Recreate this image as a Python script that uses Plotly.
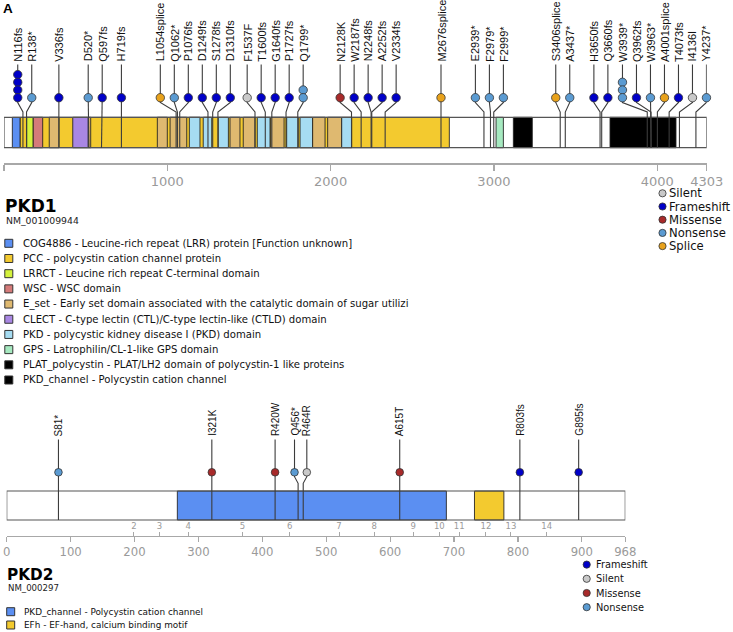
import plotly.graph_objects as go

W, H = 733, 632

# ---------------- DATA ----------------
pkd1_length = 4303
pkd1_axis_ticks = [0, 1000, 2000, 3000, 4000, 4303]
pkd1_mut_label = ["N116fs", "R138*", "V336fs", "D520*", "Q597fs", "H719fs", "L1054splice", "Q1062*",
                  "P1076fs", "D1249fs", "S1278fs", "D1310fs", "F1537F", "T1600fs", "G1640fs", "P1727fs",
                  "Q1799*", "N2128K", "W2187fs", "N2248fs", "A2252fs", "V2334fs", "M2676splice", "E2939*",
                  "F2979*", "F2999*", "S3406splice", "A3437*", "H3650fs", "Q3660fs", "W3939*", "Q3962fs",
                  "W3963*", "A4001splice", "T4073fs", "I4136I", "Y4237*"]
pkd1_mut_pos = [116, 138, 336, 520, 597, 719, 1054, 1062,
                1076, 1249, 1278, 1310, 1537, 1600, 1640, 1727,
                1799, 2128, 2187, 2248, 2252, 2334, 2676, 2939,
                2979, 2999, 3406, 3437, 3650, 3660, 3939, 3962,
                3963, 4001, 4073, 4136, 4237]
pkd1_mut_type = ["Frameshift", "Nonsense", "Frameshift", "Nonsense", "Frameshift", "Frameshift", "Splice", "Nonsense",
                 "Frameshift", "Frameshift", "Frameshift", "Frameshift", "Silent", "Frameshift", "Frameshift", "Frameshift",
                 "Nonsense", "Missense", "Frameshift", "Frameshift", "Frameshift", "Frameshift", "Splice", "Nonsense",
                 "Nonsense", "Nonsense", "Splice", "Nonsense", "Frameshift", "Frameshift", "Nonsense", "Frameshift",
                 "Nonsense", "Splice", "Frameshift", "Silent", "Nonsense"]
pkd1_mut_count = [4, 1, 1, 1, 1, 1, 1, 1,
                  1, 1, 1, 1, 1, 1, 1, 1,
                  2, 1, 1, 1, 1, 1, 1, 1,
                  1, 1, 1, 1, 1, 1, 3, 1,
                  1, 1, 1, 1, 1]

pkd1_dom_key = ["PCC", "COG4886", "LRRCT", "WSC", "E_set", "CLECT", "E_set", "E_set", "E_set", "PKD", "PKD",
                "PKD", "E_set", "E_set", "PKD", "E_set", "PKD", "PKD", "E_set", "E_set", "PKD", "GPS",
                "PLAT_polycystin", "PKD_channel"]
pkd1_dom_start = [98, 51, 139, 179, 277, 421, 516, 939, 1017, 1135, 1220,
                  1312, 1384, 1465, 1551, 1633, 1731, 1813, 1890, 1982, 2068, 3013,
                  3119, 3711]
pkd1_dom_end = [2727, 98, 179, 237, 337, 516, 531, 1000, 1119, 1200, 1272,
                1374, 1445, 1537, 1629, 1715, 1802, 1890, 1966, 2068, 2129, 3058,
                3235, 4115]

pkd1_legend_key = ["COG4886", "PCC", "LRRCT", "WSC", "E_set", "CLECT", "PKD", "GPS", "PLAT_polycystin", "PKD_channel"]
pkd1_legend_text = [
    "COG4886 - Leucine-rich repeat (LRR) protein [Function unknown]",
    "PCC - polycystin cation channel protein",
    "LRRCT - Leucine rich repeat C-terminal domain",
    "WSC - WSC domain",
    "E_set - Early set domain associated with the catalytic domain of sugar utilizi",
    "CLECT - C-type lectin (CTL)/C-type lectin-like (CTLD) domain",
    "PKD - polycystic kidney disease I (PKD) domain",
    "GPS - Latrophilin/CL-1-like GPS domain",
    "PLAT_polycystin - PLAT/LH2 domain of polycystin-1 like proteins",
    "PKD_channel - Polycystin cation channel",
]
pkd1_type_legend = ["Silent", "Frameshift", "Missense", "Nonsense", "Splice"]

pkd2_length = 968
pkd2_axis_ticks = [0, 100, 200, 300, 400, 500, 600, 700, 800, 900, 968]
pkd2_mut_label = ["S81*", "I321K", "R420W", "Q456*", "R464R", "A615T", "R803fs", "G895fs"]
pkd2_mut_pos = [81, 321, 420, 456, 464, 615, 803, 895]
pkd2_mut_type = ["Nonsense", "Missense", "Missense", "Nonsense", "Silent", "Missense", "Frameshift", "Frameshift"]
pkd2_mut_count = [1, 1, 1, 1, 1, 1, 1, 1]
pkd2_dom_key = ["PKD_channel", "EFh"]
pkd2_dom_start = [267, 732]
pkd2_dom_end = [688, 778]
pkd2_legend_key = ["PKD_channel", "EFh"]
pkd2_legend_text = ["PKD_channel - Polycystin cation channel", "EFh - EF-hand, calcium binding motif"]
pkd2_type_legend = ["Frameshift", "Silent", "Missense", "Nonsense"]
pkd2_exon_label = ["2", "3", "4", "5", "6", "7", "8", "9", "10", "11", "12", "13", "14"]
pkd2_exon_pos = [199, 239, 284, 369, 443, 520, 575, 636, 677, 708, 750, 789, 845]

# ---------------- STYLE ----------------
MUT_COLOR = {"Silent": "#c9c9c9", "Frameshift": "#0000c8", "Missense": "#a82a2a",
             "Nonsense": "#5b9bd2", "Splice": "#e8a21c"}
DOM_COLOR = {"COG4886": "#5b8ff2", "PCC": "#f3ca2f", "LRRCT": "#d4f23c", "WSC": "#d57b7a",
             "E_set": "#dfb970", "CLECT": "#a987e3", "PKD": "#a6dcf2", "GPS": "#a6e9c0",
             "PLAT_polycystin": "#000000", "PKD_channel": "#000000"}
DOM_COLOR2 = {"PKD_channel": "#5b8ff2", "EFh": "#f3ca2f"}
STEM = "#3c3c3c"
AXIS_GREY = "#a8a8a8"
LABEL_FONT = "Liberation Sans, Arial, sans-serif"
UI_FONT = "DejaVu Sans, Verdana, sans-serif"

# panel geometry (pixels in the page, used only for layout)
P1 = dict(xl=4.0, xr=706.7, bar_top=117.3, bar_bot=147.7, axis_y=163.3, circle_y=97.7, stack=7.7,
          label_bot=62.5, stem_top=64.5, elbow_a=102.5, elbow_b=112.0, gap_px=14.0, msize=8.4,
          lab_size=11.0)
P2 = dict(xl=6.7, xr=625.3, bar_top=491.0, bar_bot=520.0, axis_y=536.0, circle_y=472.3, stack=7.0,
          label_bot=437.0, stem_top=439.5, elbow_a=476.7, elbow_b=483.3, gap_px=12.3, msize=7.6,
          lab_size=10.0)


def spread(pos, gap):
    """Place lollipop heads so neighbours are at least `gap` apart, each
    crowded group centred on the mean of its true positions."""
    n = len(pos)
    order = sorted(range(n), key=lambda i: pos[i])
    clusters = [[i] for i in order]

    def start(c):
        return sum(pos[i] for i in c) / len(c) - (len(c) - 1) * gap / 2

    changed = True
    while changed:
        changed = False
        for k in range(len(clusters) - 1):
            a, b = clusters[k], clusters[k + 1]
            end_a = start(a) + (len(a) - 1) * gap
            if start(b) - end_a < gap - 1e-9:
                clusters[k] = a + b
                del clusters[k + 1]
                changed = True
                break
    disp = [0.0] * n
    for c in clusters:
        s = start(c)
        for j, i in enumerate(c):
            disp[i] = s + j * gap
    return disp


fig = go.Figure()
shapes = []
annotations = []


def draw_panel(P, xref, length, dom_key, dom_start, dom_end, dom_colors,
               mut_label, mut_pos, mut_type, mut_count):
    scale = (P["xr"] - P["xl"]) / length
    disp = spread(mut_pos, P["gap_px"] / scale)
    # protein bar
    shapes.append(dict(type="rect", xref=xref, yref="y", x0=0, x1=length, y0=P["bar_top"], y1=P["bar_bot"],
                       fillcolor="white", line=dict(width=0), layer="below"))
    for k, s, e in zip(dom_key, dom_start, dom_end):
        shapes.append(dict(type="rect", xref=xref, yref="y", x0=s, x1=e, y0=P["bar_top"], y1=P["bar_bot"],
                           fillcolor=dom_colors[k], line=dict(color="rgba(30,30,30,0.85)", width=1),
                           layer="below"))
    shapes.append(dict(type="rect", xref=xref, yref="y", x0=0, x1=length, y0=P["bar_top"], y1=P["bar_bot"],
                       fillcolor="rgba(0,0,0,0)", line=dict(color="#555555", width=1.2), layer="below"))
    # stems
    sx, sy = [], []
    cx, cy, cc = [], [], []
    for d, a, t, n in zip(disp, mut_pos, mut_type, mut_count):
        top = P["circle_y"] - (n - 1) * P["stack"]
        sx += [d, d, None, d, d, a, a, None]
        sy += [P["stem_top"], top, None, P["circle_y"], P["elbow_a"], P["elbow_b"], P["bar_bot"], None]
        for k in range(n - 1, -1, -1):
            cx.append(d)
            cy.append(P["circle_y"] - k * P["stack"])
            cc.append(MUT_COLOR[t])
    fig.add_trace(go.Scatter(x=sx, y=sy, xaxis=xref, yaxis="y", mode="lines",
                             line=dict(color=STEM, width=1.1), hoverinfo="skip", showlegend=False))
    fig.add_trace(go.Scatter(x=cx, y=cy, xaxis=xref, yaxis="y", mode="markers", cliponaxis=False,
                             marker=dict(size=P["msize"], color=cc, line=dict(color="#333333", width=0.8)),
                             hoverinfo="skip", showlegend=False))
    for d, lab in zip(disp, mut_label):
        annotations.append(dict(text=lab, xref=xref, yref="y", x=d, y=P["label_bot"], showarrow=False,
                                textangle=-90, xanchor="center", yanchor="bottom", borderpad=0,
                                font=dict(family=LABEL_FONT, size=P["lab_size"], color="#111111")))


draw_panel(P1, "x", pkd1_length, pkd1_dom_key, pkd1_dom_start, pkd1_dom_end, DOM_COLOR,
           pkd1_mut_label, pkd1_mut_pos, pkd1_mut_type, pkd1_mut_count)
draw_panel(P2, "x2", pkd2_length, pkd2_dom_key, pkd2_dom_start, pkd2_dom_end, DOM_COLOR2,
           pkd2_mut_label, pkd2_mut_pos, pkd2_mut_type, pkd2_mut_count)

# dummy invisible traces so every axis is rendered
for ax in ["x3", "x4"]:
    fig.add_trace(go.Scatter(x=[0], y=[-50], xaxis=ax, yaxis="y", mode="markers",
                             marker=dict(opacity=0), hoverinfo="skip", showlegend=False))


# ---------------- LEGENDS / TITLES (page-pixel layout on x4/y) ----------------
def text(x, y, s, size, bold=False, color="#111111", family=UI_FONT, xanchor="left"):
    annotations.append(dict(text=("<b>%s</b>" % s) if bold else s, xref="x4", yref="y", x=x, y=y,
                            showarrow=False, xanchor=xanchor, yanchor="middle", borderpad=0,
                            font=dict(family=family, size=size, color=color)))


text(1.5, 8.5, "A", 13.5, bold=True, family="Liberation Sans, Arial, sans-serif", color="#000000")

# PKD1 title + domain legend
text(4.0, 206.3, "PKD1", 17, bold=True, color="#000000")
text(4.5, 220.0, "NM_001009944", 9.3, color="#222222")
row0, step = 243.3, 15.19
for i, (k, s) in enumerate(zip(pkd1_legend_key, pkd1_legend_text)):
    yc = row0 + i * step
    shapes.append(dict(type="rect", xref="x4", yref="y", x0=4.8, x1=12.8, y0=yc - 4, y1=yc + 4,
                       fillcolor=DOM_COLOR[k], line=dict(color="#333333", width=1)))
    text(21.5, yc, s, 10.1)

# mutation type legends
lx, ly, ls = [], [], []
for i, t in enumerate(pkd1_type_legend):
    yc = 193.3 + i * 13.2
    lx.append(662.5); ly.append(yc); ls.append(MUT_COLOR[t])
    text(668.0, yc, t, 11.6)
for i, t in enumerate(pkd2_type_legend):
    yc = 564.6 + i * 14.2
    lx.append(586.7); ly.append(yc); ls.append(MUT_COLOR[t])
    text(595.0, yc, t, 9.8)
fig.add_trace(go.Scatter(x=lx, y=ly, xaxis="x4", yaxis="y", mode="markers", cliponaxis=False,
                         marker=dict(size=7.2, color=ls, line=dict(color="#333333", width=0.8)),
                         hoverinfo="skip", showlegend=False))

# PKD2 title + domain legend
text(6.0, 574.6, "PKD2", 15.3, bold=True, color="#000000")
text(6.7, 588.3, "NM_000297", 8.6, color="#222222")
for i, (k, s) in enumerate(zip(pkd2_legend_key, pkd2_legend_text)):
    yc = 611.7 + i * 13.3
    shapes.append(dict(type="rect", xref="x4", yref="y", x0=6.7, x1=14.7, y0=yc - 4, y1=yc + 4,
                       fillcolor=DOM_COLOR2[k], line=dict(color="#333333", width=1)))
    text(22.7, yc, s, 8.9)


def pos(ypx):
    return 1 - ypx / H


common = dict(showgrid=False, zeroline=False, fixedrange=True)
fig.update_layout(
    width=W, height=H, margin=dict(l=0, r=0, t=0, b=0, pad=0, autoexpand=False),
    paper_bgcolor="white", plot_bgcolor="rgba(0,0,0,0)", showlegend=False, hovermode=False,
    xaxis=dict(domain=[P1["xl"] / W, P1["xr"] / W], range=[0, pkd1_length], anchor="free",
               position=pos(P1["axis_y"]), showline=True, linecolor=AXIS_GREY, linewidth=1.2,
               ticks="outside", ticklen=6, tickwidth=1.2, tickcolor=AXIS_GREY,
               tickvals=pkd1_axis_ticks, ticktext=[str(v) for v in pkd1_axis_ticks],
               tickfont=dict(family=UI_FONT, size=13, color="#9a9a9a"), **common),
    xaxis2=dict(domain=[P2["xl"] / W, P2["xr"] / W], range=[0, pkd2_length], anchor="free",
                position=pos(P2["axis_y"]), showline=True, linecolor=AXIS_GREY, linewidth=1.2,
                ticks="outside", ticklen=5, tickwidth=1.2, tickcolor=AXIS_GREY,
                tickvals=pkd2_axis_ticks, ticktext=[str(v) for v in pkd2_axis_ticks],
                tickfont=dict(family=UI_FONT, size=11.7, color="#9a9a9a"), **common),
    xaxis3=dict(domain=[P2["xl"] / W, P2["xr"] / W], range=[0, pkd2_length], anchor="free",
                position=pos(P2["axis_y"]), side="top", showline=False,
                ticks="outside", ticklen=4, tickwidth=1, tickcolor=AXIS_GREY,
                tickvals=pkd2_exon_pos, ticktext=pkd2_exon_label,
                tickfont=dict(family=UI_FONT, size=8.5, color="#9a9a9a"), **common),
    xaxis4=dict(domain=[0, 1], range=[0, W], anchor="y", visible=False, **common),
    yaxis=dict(domain=[0, 1], range=[H, 0], anchor="x4", visible=False, **common),
    shapes=shapes, annotations=annotations,
)

fig.write_html("out.html", config={"displayModeBar": False, "staticPlot": True},
               post_script="document.body.style.margin='0';document.body.style.padding='0';"
                           "document.body.style.overflow='hidden';")
